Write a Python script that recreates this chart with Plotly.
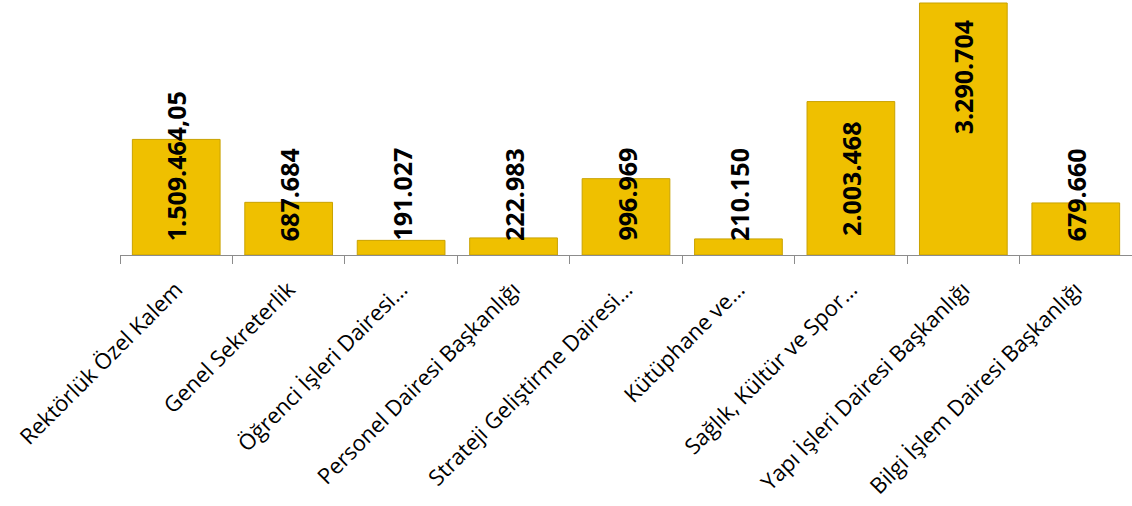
import plotly.graph_objects as go

categories = [
    "Rektörlük Özel Kalem",
    "Genel Sekreterlik",
    "Öğrenci İşleri Dairesi…",
    "Personel Dairesi Başkanlığı",
    "Strateji Geliştirme Dairesi…",
    "Kütüphane ve…",
    "Sağlık, Kültür ve Spor…",
    "Yapı İşleri Dairesi Başkanlığı",
    "Bilgi İşlem Dairesi Başkanlığı",
]
values = [1509464.05, 687684, 191027, 222983, 996969, 210150, 2003468, 3290704, 679660]
value_labels = ["1.509.464,05", "687.684", "191.027", "222.983", "996.969",
                "210.150", "2.003.468", "3.290.704", "679.660"]

# style: pixel offset of each value label from the baseline
label_shift = [12, 12, 12, 12, 12, 12, 17, 119, 12]

fig = go.Figure()
fig.add_trace(go.Bar(
    x=categories,
    y=values,
    marker=dict(color="#EFC000", line=dict(color="#C9A200", width=1)),
    hoverinfo="x+y",
))

for c, t, s in zip(categories, value_labels, label_shift):
    fig.add_annotation(
        x=c, y=0, xref="x", yref="y",
        text=t, textangle=-90, showarrow=False,
        xanchor="center", yanchor="bottom", yshift=s,
        font=dict(family="Open Sans", size=25, color="#000000", weight="bold"),
    )

fig.update_layout(
    width=1132, height=506,
    margin=dict(l=120, r=0, t=0, b=251),
    paper_bgcolor="white", plot_bgcolor="white",
    bargap=0.22,
    showlegend=False,
    font=dict(family="Open Sans", size=22, color="#000000"),
)
fig.update_xaxes(
    tickangle=-45,
    tickson="boundaries",
    ticks="outside", ticklen=8, tickcolor="#8C8C8C", tickwidth=1,
    ticklabelstandoff=12,
    showline=True, linecolor="#8C8C8C", linewidth=1,
    showgrid=False,
    tickfont=dict(family="Open Sans", size=22, color="#000000"),
)
fig.update_yaxes(
    range=[0, 3330000],
    visible=False,
    showgrid=False,
)

fig.write_html("out.html", config={"displayModeBar": False},
               post_script="document.body.style.margin='0';")
